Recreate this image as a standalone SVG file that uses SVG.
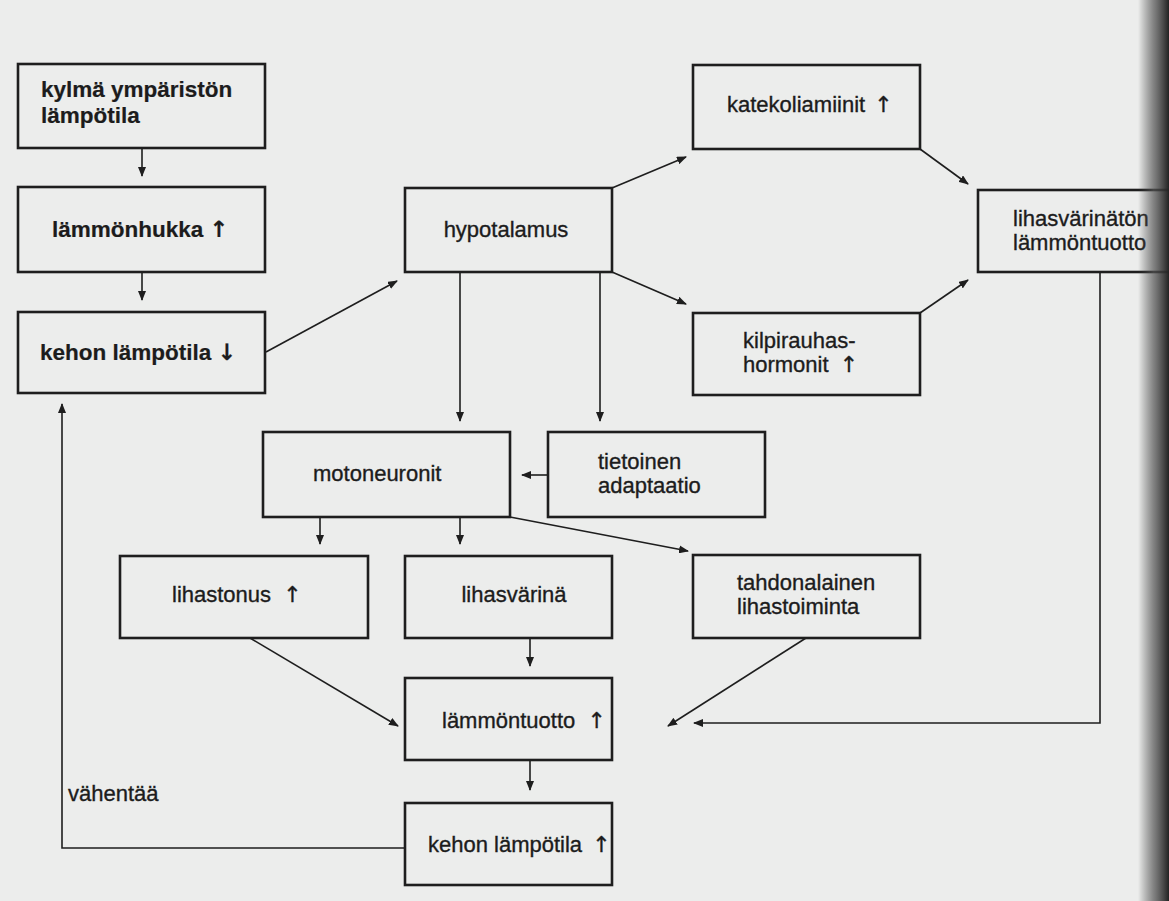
<svg xmlns="http://www.w3.org/2000/svg" width="1169" height="901" viewBox="0 0 1169 901">
<style>
.box{fill:none;stroke:#1e1e1e;stroke-width:2.6}
.t{font-family:"Liberation Sans",Arial,sans-serif;font-size:22px;fill:#1c1c1c;stroke:#1c1c1c;stroke-width:0.35}
.b{font-weight:bold;font-size:22.5px;stroke-width:0.2}
.ar{font-family:"DejaVu Sans",sans-serif}
.c{stroke:#1e1e1e;stroke-width:1.6;fill:none}
</style>
<defs>
<marker id="ah" markerWidth="10" markerHeight="8" refX="9" refY="4" orient="auto" markerUnits="userSpaceOnUse">
<path d="M0,0 L10,4 L0,8 z" fill="#1e1e1e"/>
</marker>
<linearGradient id="edge" x1="0" y1="0" x2="1" y2="0">
<stop offset="0" stop-color="#444" stop-opacity="0"/>
<stop offset="0.5" stop-color="#555" stop-opacity="0.7"/>
<stop offset="1" stop-color="#222" stop-opacity="1"/>
</linearGradient>
</defs>
<rect x="0" y="0" width="1169" height="901" fill="#ecedec"/>

<g id="connectors">
<line class="c" x1="142" y1="148" x2="142" y2="176" marker-end="url(#ah)"/>
<line class="c" x1="142" y1="272" x2="142" y2="300" marker-end="url(#ah)"/>
<line class="c" x1="266" y1="352" x2="397" y2="281" marker-end="url(#ah)"/>
<line class="c" x1="612" y1="188" x2="686" y2="157" marker-end="url(#ah)"/>
<line class="c" x1="612" y1="272" x2="686" y2="304" marker-end="url(#ah)"/>
<line class="c" x1="920" y1="149" x2="968" y2="184" marker-end="url(#ah)"/>
<line class="c" x1="920" y1="313" x2="968" y2="280" marker-end="url(#ah)"/>
<line class="c" x1="460" y1="272" x2="460" y2="421" marker-end="url(#ah)"/>
<line class="c" x1="600" y1="272" x2="600" y2="421" marker-end="url(#ah)"/>
<line class="c" x1="548" y1="475" x2="522" y2="475" marker-end="url(#ah)"/>
<line class="c" x1="320" y1="517" x2="320" y2="544" marker-end="url(#ah)"/>
<line class="c" x1="460" y1="517" x2="460" y2="544" marker-end="url(#ah)"/>
<line class="c" x1="510" y1="517" x2="688" y2="551" marker-end="url(#ah)"/>
<line class="c" x1="250" y1="638" x2="398" y2="726" marker-end="url(#ah)"/>
<line class="c" x1="530" y1="638" x2="530" y2="666" marker-end="url(#ah)"/>
<line class="c" x1="806" y1="638" x2="668" y2="726" marker-end="url(#ah)"/>
<polyline class="c" points="1100,272 1100,723 694,723" marker-end="url(#ah)"/>
<line class="c" x1="530" y1="760" x2="530" y2="790" marker-end="url(#ah)"/>
<polyline class="c" points="405,848 62,848 62,404" marker-end="url(#ah)"/>
</g>

<g id="n-kylma"><rect class="box" x="18" y="64" width="247" height="84"/>
<text class="t b" x="41" y="97">kylmä ympäristön</text><text class="t b" x="41" y="123">lämpötila</text></g>
<g id="n-lammonhukka"><rect class="box" x="18" y="187" width="247" height="85"/>
<text class="t b" x="52" y="237">lämmönhukka <tspan class="ar">↑</tspan></text></g>
<g id="n-kehon-lasku"><rect class="box" x="18" y="312" width="247" height="81"/>
<text class="t b" x="40" y="360">kehon lämpötila <tspan class="ar">↓</tspan></text></g>
<g id="n-hypotalamus"><rect class="box" x="405" y="188" width="207" height="84"/>
<text class="t" x="506" y="237" text-anchor="middle">hypotalamus</text></g>
<g id="n-katekoliamiinit"><rect class="box" x="693" y="65" width="227" height="84"/>
<text class="t" x="727" y="112">katekoliamiinit <tspan class="ar" dx="3">↑</tspan></text></g>
<g id="n-kilpirauhas"><rect class="box" x="693" y="313" width="227" height="82"/>
<text class="t" x="743" y="348">kilpirauhas-</text><text class="t" x="743" y="372">hormonit <tspan class="ar" dx="5">↑</tspan></text></g>
<g id="n-lihasvarinaton"><rect class="box" x="978" y="190" width="210" height="82"/>
<text class="t" x="1013" y="226">lihasvärinätön</text><text class="t" x="1013" y="250">lämmöntuotto</text></g>
<g id="n-motoneuronit"><rect class="box" x="263" y="432" width="247" height="85"/>
<text class="t" x="313" y="481">motoneuronit</text></g>
<g id="n-tietoinen"><rect class="box" x="548" y="432" width="217" height="85"/>
<text class="t" x="598" y="469">tietoinen</text><text class="t" x="598" y="493">adaptaatio</text></g>
<g id="n-lihastonus"><rect class="box" x="120" y="556" width="248" height="82"/>
<text class="t" x="172" y="602">lihastonus <tspan class="ar" dx="6">↑</tspan></text></g>
<g id="n-lihasvarina"><rect class="box" x="405" y="556" width="207" height="82"/>
<text class="t" x="514" y="602" text-anchor="middle">lihasvärinä</text></g>
<g id="n-tahdonalainen"><rect class="box" x="693" y="555" width="227" height="83"/>
<text class="t" x="737" y="590">tahdonalainen</text><text class="t" x="737" y="614">lihastoiminta</text></g>
<g id="n-lammontuotto"><rect class="box" x="405" y="678" width="207" height="82"/>
<text class="t" x="442" y="728">lämmöntuotto <tspan class="ar" dx="6">↑</tspan></text></g>
<g id="n-kehon-nousu"><rect class="box" x="405" y="803" width="207" height="82"/>
<text class="t" x="428" y="852">kehon lämpötila <tspan class="ar" dx="4">↑</tspan></text></g>
<text class="t" x="68" y="801">vähentää</text>

<rect x="1138" y="0" width="31" height="901" fill="url(#edge)"/>
</svg>
